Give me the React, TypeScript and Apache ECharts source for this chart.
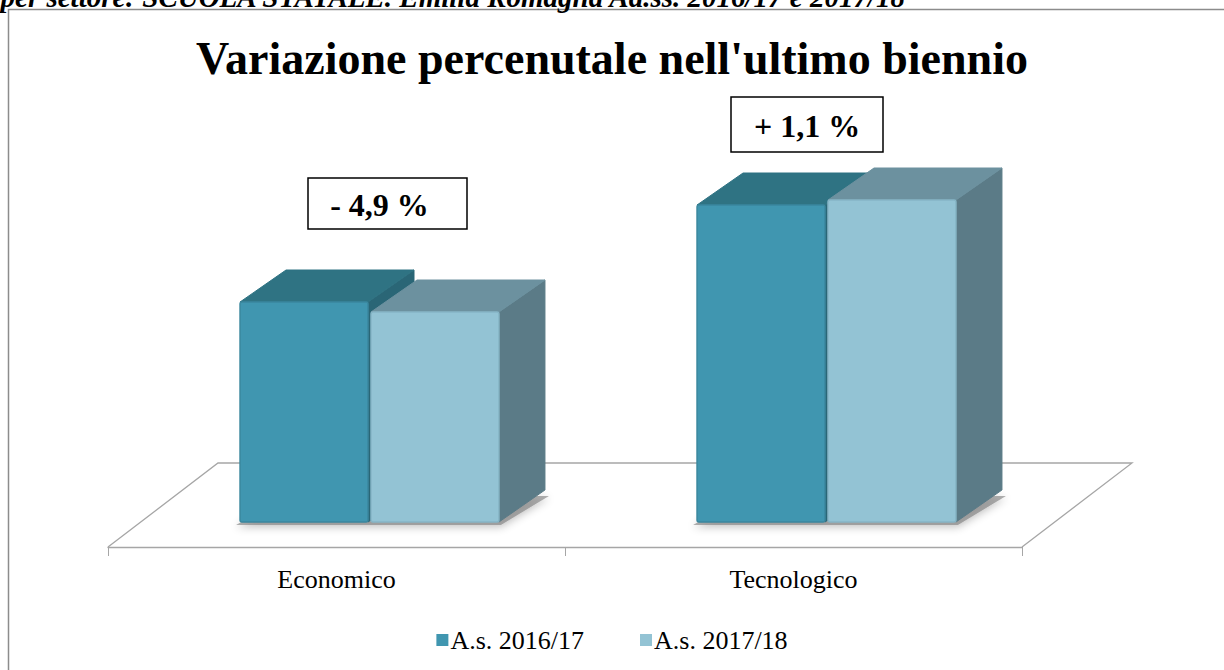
import React, { useEffect, useRef } from "react";
import * as echarts from "echarts";

const categories = ["Economico", "Tecnologico"];
const seriesNames = ["A.s. 2016/17", "A.s. 2017/18"];
const values2016 = [220, 317];
const values2017 = [210, 322];
const variations = ["- 4,9 %", "+ 1,1 %"];
const headerText = "Iscritti per settore: SCUOLA STATALE. Emilia Romagna Aa.ss. 2016/17 e 2017/18";

const FONT = "'Liberation Serif', 'Times New Roman', serif";

const palettes = [
  { front: "#4096B0", top: "#2F7383", side: "#2A6676", stroke: "#3A879E" },
  { front: "#93C3D4", top: "#6C919F", side: "#5B7B87", stroke: "#86B5C6" },
];

// geometry (styling)
const FLOOR_DX = 110;
const FLOOR_DY = -84;
const BAR_SHIFT_X = 33;
const BAR_SHIFT_Y = -25;
const BAR_DX = 46;
const BAR_DY = -32;
const BAR_W_FRAC = 0.28;
const GAP = 3;

export default function App() {
  const ref = useRef<HTMLDivElement>(null);

  useEffect(() => {
    if (!ref.current) return;
    const chart = echarts.init(ref.current, undefined, { renderer: "svg" });

    const makeBarSeries = (si: number, vals: number[]) => ({
      type: "custom",
      name: seriesNames[si],
      coordinateSystem: "cartesian2d",
      itemStyle: { color: palettes[si].front, borderColor: palettes[si].top },
      data: vals.map((v, i) => [i, v]),
      z: 3 + si,
      renderItem: (params: any, api: any) => {
        const cat = api.value(0);
        const v = api.value(1);
        const base = api.coord([cat, 0]);
        const topPt = api.coord([cat, v]);
        const band = api.size([1, 0])[0];
        const w = band * BAR_W_FRAC;
        const cx = base[0] + BAR_SHIFT_X;
        const yb = base[1] + BAR_SHIFT_Y;
        const h = base[1] - topPt[1];
        const yt = yb - h;
        const x0 = si === 0 ? cx - GAP / 2 - w : cx + GAP / 2;
        const p = palettes[si];
        const children: any[] = [];
        if (si === 0) {
          const xr = x0 + 2 * w + GAP;
          children.push({
            type: "polygon",
            shape: {
              points: [
                [x0 - 4, yb + 3],
                [xr + 2, yb + 3],
                [xr + BAR_DX + 4, yb + BAR_DY + 6],
                [x0 + BAR_DX, yb + BAR_DY + 6],
              ],
            },
            style: {
              fill: "rgba(110,110,110,0.55)",
              shadowBlur: 9,
              shadowOffsetY: 2,
              shadowColor: "rgba(0,0,0,0.45)",
            },
          });
        }
        children.push(
          {
            type: "polygon",
            shape: {
              points: [
                [x0 + w, yt],
                [x0 + w + BAR_DX, yt + BAR_DY],
                [x0 + w + BAR_DX, yb + BAR_DY],
                [x0 + w, yb],
              ],
            },
            style: { fill: p.side, stroke: p.side, lineWidth: 1 },
          },
          {
            type: "polygon",
            shape: {
              points: [
                [x0, yt],
                [x0 + BAR_DX, yt + BAR_DY],
                [x0 + w + BAR_DX, yt + BAR_DY],
                [x0 + w, yt],
              ],
            },
            style: { fill: p.top, stroke: p.top, lineWidth: 1 },
          },
          {
            type: "rect",
            shape: { x: x0, y: yt, width: w, height: h, r: 2 },
            style: { fill: p.front, stroke: p.stroke, lineWidth: 1.5 },
          }
        );
        return { type: "group", children };
      },
    });

    const floorSeries = {
      type: "custom",
      name: "floor",
      coordinateSystem: "cartesian2d",
      silent: true,
      z: 1,
      data: [[0, 0]],
      renderItem: (params: any) => {
        const cs = params.coordSys;
        const xl = cs.x;
        const xr = cs.x + cs.width;
        const yf = cs.y + cs.height;
        const st = { stroke: "#A6A6A6", lineWidth: 1.3, fill: null };
        return {
          type: "group",
          children: [
            {
              type: "polyline",
              shape: {
                points: [
                  [xl, yf],
                  [xl + FLOOR_DX, yf + FLOOR_DY],
                  [xr + FLOOR_DX, yf + FLOOR_DY],
                  [xr, yf],
                ],
              },
              style: st,
            },
          ],
        };
      },
    };

    const annotation = (text: string, x: number, y: number, w: number, h: number, dx: number) => ({
      type: "group",
      x,
      y,
      children: [
        {
          type: "rect",
          shape: { x: 0, y: 0, width: w, height: h },
          style: { fill: "#fff", stroke: "#000", lineWidth: 1.5 },
        },
        {
          type: "text",
          x: w / 2 + dx,
          y: h / 2 + 1,
          style: {
            text,
            fontFamily: FONT,
            fontWeight: "bold",
            fontSize: 32,
            fill: "#000",
            align: "center",
            verticalAlign: "middle",
          },
        },
      ],
    });

    chart.setOption({
      animation: false,
      backgroundColor: "#fff",
      title: {
        text: "Variazione percenutale nell'ultimo biennio",
        left: "center",
        top: 30,
        textStyle: { fontFamily: FONT, fontWeight: "bold", fontSize: 46, color: "#000" },
      },
      legend: {
        data: seriesNames,
        top: 622,
        left: "center",
        icon: "rect",
        itemWidth: 12,
        itemHeight: 12,
        itemGap: 56,
        textStyle: { fontFamily: FONT, fontSize: 26, color: "#000", padding: [0, 0, 0, -3] },
      },
      grid: { left: 108, right: 202, top: 147, bottom: 123 },
      xAxis: {
        type: "category",
        data: categories,
        axisLine: { lineStyle: { color: "#A6A6A6", width: 1.3 } },
        axisTick: { show: true, length: 9, lineStyle: { color: "#A6A6A6" } },
        axisLabel: { margin: 19, fontFamily: FONT, fontSize: 26, color: "#000" },
      },
      yAxis: { type: "value", min: 0, max: 400, show: false },
      series: [floorSeries, makeBarSeries(0, values2016), makeBarSeries(1, values2017)],
      graphic: [
        {
          type: "polyline",
          shape: { points: [[8.5, 700], [8.5, 9.5], [1300, 9.5]] },
          style: { fill: null, stroke: "#8C8C8C", lineWidth: 1.5 },
          z: 0,
        },
        {
          type: "text",
          x: 905,
          y: 11,
          style: {
            text: headerText,
            fontFamily: FONT,
            fontStyle: "italic",
            fontWeight: "bold",
            fontSize: 29,
            fill: "#000",
            align: "right",
            verticalAlign: "bottom",
          },
        },
        annotation(variations[0], 308, 178, 159, 51, -8),
        annotation(variations[1], 731, 97, 152, 55, 0),
      ],
    });

    return () => chart.dispose();
  }, []);

  return (
    <div
      ref={ref}
      style={{ position: "absolute", left: 0, top: 0, width: 1224, height: 670 }}
    />
  );
}
